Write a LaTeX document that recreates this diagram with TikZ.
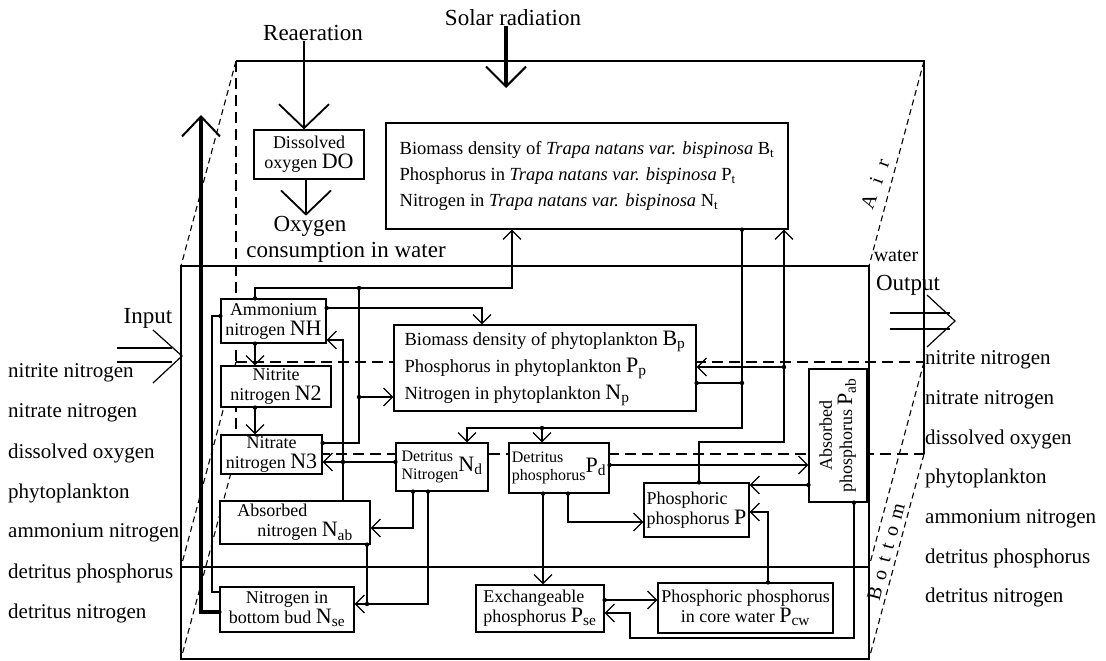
\documentclass[tikz,border=0pt]{standalone}
\usepackage{fontspec}
\setmainfont{Liberation Serif}
\usepackage{graphicx}
\usetikzlibrary{arrows.meta}
\newcommand{\bigsym}[1]{{\fontsize{22}{22}\selectfont #1}}
\newcommand{\lsp}{\hspace{8pt}}
\begin{document}
\begin{tikzpicture}[x=1pt, y=-1pt,
    box/.style={draw, fill=white, line width=1.2pt, inner sep=1pt, align=center, font=\fontsize{18}{20}\selectfont},
    smallbox/.style={box, font=\fontsize{16}{17.5}\selectfont},
    bigbox/.style={box, align=left, font=\fontsize{18.5}{26}\selectfont},
    link/.style={line width=1.2pt, -{Straight Barb[length=9pt, width=18pt]}},
    wire/.style={line width=1.2pt},
    bigarrow/.style={line width=#1, -{Straight Barb[length=24pt, width=50pt, line width=1.8pt]}},
    rim/.style={line width=1.2pt},
    hidden/.style={line width=1.1pt, dash pattern=on 11pt off 6pt},
    slant/.style={line width=1.1pt, dash pattern=on 6pt off 4pt},
    sidetext/.style={font=\fontsize{21}{24}\selectfont, anchor=west, inner sep=0pt},
    headtext/.style={font=\fontsize{23}{26}\selectfont, inner sep=0pt},
    edgetext/.style={font=\fontsize{20}{22}\selectfont, inner sep=0pt}
]
    \useasboundingbox (0,0) rectangle (1106,661);

    % Cuboid: front face, back face, depth edges
    \draw[rim] (181,266) rectangle (869,659);
    \draw[rim] (181,567) -- (869,567);
    \draw[rim] (236,61) -- (924,61) -- (924,454);
    \draw[hidden] (236,61) -- (236,454) -- (924,454);
    \draw[hidden] (236,362) -- (924,362);
    \draw[slant] (236,61) -- (181,266);
    \draw[slant] (924,61) -- (869,266);
    \draw[slant] (236,362) -- (181,567);
    \draw[slant] (924,362) -- (869,567);
    \draw[slant] (236,454) -- (181,659);
    \draw[slant] (924,454) -- (869,659);

    \node[edgetext, rotate=70] (air) at (875,184) {A\hspace{12pt}i\hspace{12pt}r};
    \node[edgetext, rotate=75] (bottom) at (886,552) {B\lsp o\lsp t\lsp t\lsp o\lsp m};
    \node[edgetext] (water) at (896,256) {water};

    % Outside texts
    \node[headtext] (rea) at (313,33) {Reaeration};
    \node[headtext] (sol) at (513,18) {Solar radiation};
    \node[headtext] (oxy) at (310,226) {Oxygen};
    \node[headtext] (cons) at (346,252) {consumption in water};
    \node[headtext] (inp) at (148,318) {Input};
    \node[headtext] (outp) at (908,285) {Output};
    \foreach \txt [count=\i] in {nitrite nitrogen, nitrate nitrogen, dissolved oxygen, phytoplankton, ammonium nitrogen, detritus phosphorus, detritus nitrogen} {
        \node[sidetext] (inl\i) at (8, 333+40*\i) {\txt};
        \node[sidetext] (outl\i) at (925, 320+39.7*\i) {\txt};
    }

    % Compartments
    \node[box, minimum width=110pt, minimum height=49pt] (do) at (309,154.5) {Dissolved\\oxygen \bigsym{DO}};
    \node[bigbox, minimum width=402pt, minimum height=106pt] (trapa) at (587,176) {Biomass density of \textit{Trapa natans var. bispinosa} B\textsubscript{t}\\Phosphorus in \textit{Trapa natans var. bispinosa} P\textsubscript{t}\\Nitrogen in \textit{Trapa natans var. bispinosa} N\textsubscript{t}};
    \node[bigbox, font=\fontsize{18.5}{27}\selectfont, minimum width=302pt, minimum height=86pt] (bp) at (545,368) {Biomass density of phytoplankton \bigsym{B\textsubscript{p}}\\Phosphorus in phytoplankton \bigsym{P\textsubscript{p}}\\Nitrogen in phytoplankton \bigsym{N\textsubscript{p}}};
    \node[box, minimum width=105pt, minimum height=44pt] (nh) at (273.5,321) {Ammonium\\nitrogen \bigsym{NH}};
    \node[box, minimum width=110pt, minimum height=41pt] (ntwo) at (276,386.5) {Nitrite\\nitrogen \bigsym{N2}};
    \node[box, minimum width=101pt, minimum height=39pt] (nthree) at (271.5,454.5) {Nitrate\\nitrogen \bigsym{N3}};
    \node[box, align=left, minimum width=150pt, minimum height=43pt] (nab) at (295,522.5) {Absorbed\\\hspace*{20pt}nitrogen \bigsym{N\textsubscript{ab}}};
    \node[box, minimum width=134pt, minimum height=45pt] (nse) at (287,609.5) {Nitrogen in\\bottom bud \bigsym{N\textsubscript{se}}};
    \node[smallbox, minimum width=92pt, minimum height=48pt] (nd) at (442,467) {\begin{tabular}{@{}l@{}}Detritus\\Nitrogen\end{tabular}\bigsym{N\textsubscript{d}}};
    \node[smallbox, minimum width=100pt, minimum height=50pt] (pd) at (559,468) {\begin{tabular}{@{}l@{}}Detritus\\phosphorus\end{tabular}\bigsym{P\textsubscript{d}}};
    \node[box, align=left, minimum width=105pt, minimum height=54pt] (pe) at (696.5,510) {Phosphoric\\phosphorus \bigsym{P}};
    \node[box, minimum width=58pt, minimum height=133pt] (pab) at (838,435.5) {\rotatebox{90}{\begin{tabular}{@{}c@{}}Absorbed\\phosphorus \bigsym{P\textsubscript{ab}}\end{tabular}}};
    \node[box, align=left, minimum width=128pt, minimum height=47pt] (pse) at (540,608.5) {Exchangeable\\phosphorus \bigsym{P\textsubscript{se}}};
    \node[box, minimum width=175pt, minimum height=50pt] (pcw) at (745.5,608) {Phosphoric phosphorus\\in core water \bigsym{P\textsubscript{cw}}};

    % Inputs from outside
    \coordinate (sun) at (506,88);
    \coordinate (intip) at (182,356);
    \coordinate (outtip) at (955,321);
    \draw[bigarrow=2.6pt] (rea.south -| 304,0) -- (do.north -| 304,0);
    \draw[bigarrow=2.6pt] (do.south -| 306,0) -- (oxy.north -| 306,0);
    \draw[line width=3.6pt, -{Straight Barb[length=20pt, width=40pt, line width=2pt]}] (sol.south -| 506,0) -- (sun);
    \draw[wire] ([shift={(-65,-8)}]intip) -- ++(55,0) ([shift={(-65,6)}]intip) -- ++(55,0);
    \draw[wire] ([shift={(-29,-26)}]intip) -- (intip) -- ([shift={(-29,27)}]intip);
    \draw[wire] ([shift={(-65,-8)}]outtip) -- ++(60,0) ([shift={(-65,8)}]outtip) -- ++(60,0);
    \draw[wire] ([shift={(-28,-26)}]outtip) -- (outtip) -- ([shift={(-28,26)}]outtip);

    % Nitrogen connections
    \draw[link] (nh.north -| 255,0) |- (512,288) -- (trapa.south -| 512,0);
    \draw[wire] (nthree.east |- 0,443) -| (359,288);
    \draw[link] (359,397) -- (bp.west |- 0,397);
    \draw[link] (nh.east |- 0,308) -| (bp.north -| 482,0);
    \draw[link] (nd.west |- 0,462) -- (nthree.east |- 0,462);
    \draw[link] (nab.north -| 343,0) |- (nh.east |- 0,340);
    \draw[link] (nh.south -| 255,0) -- (ntwo.north -| 255,0);
    \draw[link] (ntwo.south -| 255,0) -- (nthree.north -| 255,0);
    \draw[link] (nd.south -| 413,0) |- (nab.east |- 0,528);
    \draw[link] (nd.south -| 428,0) |- (nse.east |- 0,604);
    \draw[wire] (nab.south -| 367,0) -- (367,604);
    \draw[wire] (nh.west |- 0,316) -| (212,592) -- (nse.west |- 0,592);
    \draw[line width=3.6pt, -{Straight Barb[length=20pt, width=38pt, line width=2pt]}] (nse.west |- 0,612) -| (201,115);

    % Plant and phytoplankton connections
    \draw[link] (trapa.south -| 742,0) |- (467,428) -- (nd.north -| 467,0);
    \draw[link] (542,428) -- (pd.north -| 542,0);
    \draw[wire] (bp.east |- 0,383) -- (742,383);
    \draw[link] (pe.north -| 699,0) |- (784,442) -- (trapa.south -| 784,0);
    \draw[link] (784,367) -- (bp.east |- 0,367);

    % Phosphorus connections
    \draw[link] (pd.east |- 0,465) -- (pab.west |- 0,465);
    \draw[link] (pab.west |- 0,485) -- (pe.east |- 0,485);
    \draw[link] (pab.south -| 854,0) |- (630,638) |- (pse.east |- 0,613);
    \draw[link] (pse.east |- 0,600) -- (pcw.west |- 0,600);
    \draw[link] (pcw.north -| 768,0) |- (pe.east |- 0,512);
    \draw[link] (pd.south -| 543,0) -- (pse.north -| 543,0);
    \draw[link] (pd.south -| 568,0) |- (pe.west |- 0,522);

    % Junction dots
    \foreach \p in {(nh.north -| 255,0), (359,288), (nthree.east |- 0,443), (359,397), (nh.east |- 0,308), (nd.west |- 0,462), (343,462), (nh.south -| 255,0), (ntwo.south -| 255,0), (nd.south -| 413,0), (nd.south -| 428,0), (nab.south -| 367,0), (367,604), (nse.west |- 0,612), (nh.west |- 0,316), (trapa.south -| 742,0), (542,428), (bp.east |- 0,383), (742,383), (pe.north -| 699,0), (784,367), (pd.east |- 0,465), (pab.west |- 0,485), (pab.south -| 854,0), (pse.east |- 0,600), (pcw.north -| 768,0), (pd.south -| 543,0), (pd.south -| 568,0)}
        \fill \p circle (2.2pt);
\end{tikzpicture}
\end{document}
